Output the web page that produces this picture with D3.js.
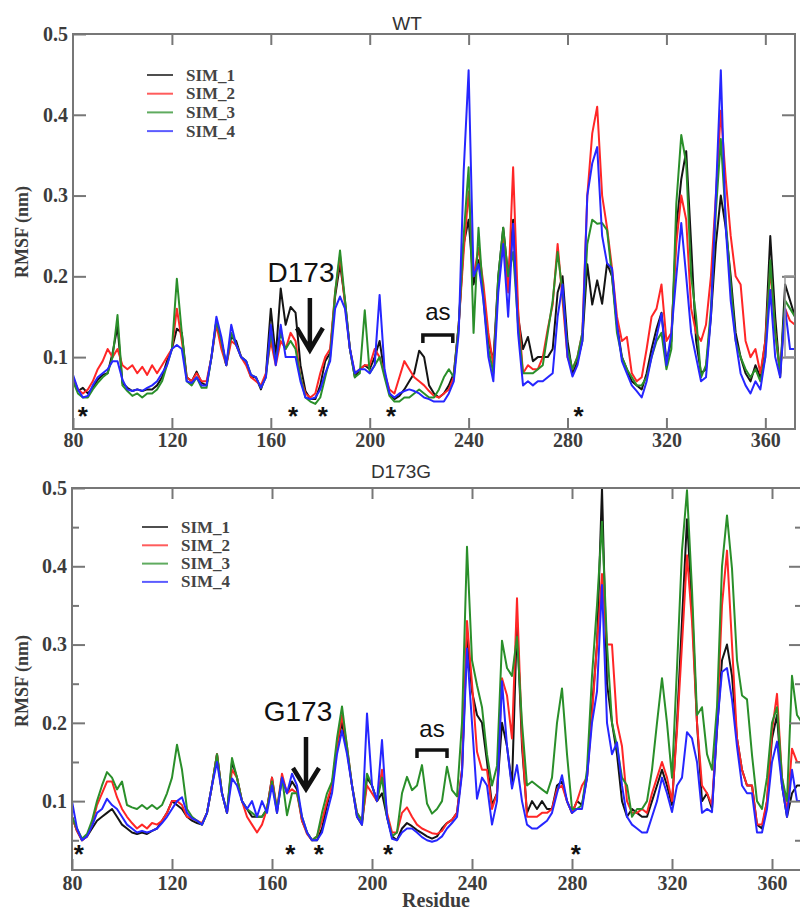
<!DOCTYPE html>
<html>
<head>
<meta charset="utf-8">
<script src="https://cdn.jsdelivr.net/npm/d3@7"></script>
<style>
body { margin: 0; background: #fff; }
svg { display: block; }
</style>
</head>
<body>
<script>
// residue numbers (every second residue) and series names
var residues = d3.range(80, 373, 2);
var simNames = ["SIM_1", "SIM_2", "SIM_3", "SIM_4"];
var simColors = ["#141414", "#ff2626", "#2a8f2a", "#2626ff"];
var yTicks = [0.1, 0.2, 0.3, 0.4, 0.5];
var yMinor = [0.05, 0.15, 0.25, 0.35, 0.45];
var xTicks = [80, 120, 160, 200, 240, 280, 320, 360];

// WT RMSF (nm)
var wtSim1 = [
  0.075,0.058,0.062,0.055,0.062,0.072,0.078,0.080,0.105,0.138,
  0.068,0.062,0.058,0.060,0.058,0.060,0.060,0.065,0.075,0.095,
  0.110,0.135,0.130,0.075,0.070,0.082,0.068,0.065,0.100,0.145,
  0.120,0.090,0.125,0.120,0.100,0.095,0.075,0.075,0.060,0.078,
  0.160,0.100,0.185,0.140,0.162,0.155,0.090,0.058,0.048,0.048,
  0.065,0.095,0.105,0.175,0.215,0.170,0.110,0.075,0.085,0.090,
  0.085,0.100,0.120,0.080,0.055,0.048,0.052,0.060,0.070,0.080,
  0.108,0.100,0.065,0.055,0.050,0.055,0.065,0.080,0.140,0.240,
  0.270,0.190,0.220,0.180,0.120,0.095,0.200,0.260,0.200,0.270,
  0.150,0.110,0.125,0.095,0.100,0.100,0.100,0.110,0.180,0.200,
  0.120,0.080,0.095,0.120,0.215,0.165,0.195,0.166,0.216,0.200,
  0.140,0.100,0.085,0.070,0.065,0.060,0.080,0.110,0.135,0.155,
  0.095,0.120,0.260,0.320,0.355,0.240,0.120,0.080,0.085,0.150,
  0.240,0.300,0.260,0.200,0.130,0.100,0.080,0.070,0.090,0.075,
  0.120,0.250,0.150,0.075,0.190,0.170,0.150];
var wtSim2 = [
  0.075,0.060,0.055,0.060,0.070,0.085,0.095,0.110,0.100,0.110,
  0.090,0.085,0.090,0.080,0.088,0.078,0.090,0.080,0.090,0.100,
  0.110,0.160,0.120,0.075,0.070,0.080,0.070,0.070,0.100,0.140,
  0.110,0.090,0.120,0.115,0.100,0.090,0.075,0.070,0.065,0.080,
  0.120,0.090,0.120,0.110,0.130,0.120,0.075,0.055,0.050,0.055,
  0.080,0.100,0.110,0.180,0.225,0.165,0.110,0.080,0.085,0.090,
  0.090,0.110,0.100,0.080,0.060,0.055,0.075,0.095,0.085,0.075,
  0.070,0.065,0.058,0.052,0.050,0.055,0.060,0.075,0.140,0.230,
  0.305,0.200,0.235,0.190,0.130,0.090,0.190,0.250,0.180,0.335,
  0.160,0.080,0.090,0.085,0.085,0.100,0.135,0.165,0.240,0.170,
  0.100,0.085,0.100,0.130,0.300,0.377,0.410,0.300,0.260,0.210,
  0.150,0.120,0.125,0.080,0.070,0.075,0.110,0.150,0.160,0.190,
  0.120,0.130,0.240,0.300,0.270,0.160,0.130,0.120,0.140,0.200,
  0.300,0.405,0.320,0.250,0.200,0.190,0.120,0.100,0.110,0.080,
  0.120,0.210,0.130,0.080,0.160,0.145,0.140];
var wtSim3 = [
  0.070,0.055,0.050,0.050,0.060,0.068,0.075,0.080,0.100,0.152,
  0.065,0.058,0.052,0.055,0.050,0.055,0.055,0.060,0.070,0.090,
  0.110,0.197,0.130,0.070,0.065,0.075,0.062,0.062,0.100,0.145,
  0.120,0.090,0.130,0.115,0.100,0.095,0.078,0.075,0.062,0.075,
  0.130,0.095,0.130,0.110,0.120,0.110,0.075,0.050,0.045,0.042,
  0.050,0.075,0.100,0.180,0.232,0.170,0.110,0.075,0.080,0.158,
  0.080,0.090,0.100,0.075,0.052,0.045,0.045,0.050,0.050,0.055,
  0.060,0.055,0.050,0.050,0.060,0.075,0.085,0.075,0.140,0.250,
  0.335,0.130,0.260,0.170,0.110,0.080,0.200,0.260,0.200,0.230,
  0.140,0.080,0.080,0.080,0.085,0.090,0.130,0.170,0.230,0.180,
  0.110,0.085,0.100,0.130,0.240,0.270,0.265,0.266,0.257,0.200,
  0.130,0.100,0.085,0.075,0.065,0.065,0.075,0.100,0.120,0.130,
  0.085,0.110,0.290,0.375,0.340,0.200,0.150,0.075,0.090,0.160,
  0.280,0.370,0.270,0.190,0.120,0.100,0.085,0.075,0.085,0.070,
  0.100,0.220,0.130,0.080,0.170,0.160,0.150];
var wtSim4 = [
  0.078,0.060,0.050,0.052,0.065,0.075,0.080,0.085,0.095,0.095,
  0.072,0.060,0.058,0.060,0.058,0.062,0.065,0.070,0.080,0.090,
  0.110,0.115,0.110,0.070,0.068,0.075,0.065,0.065,0.100,0.150,
  0.125,0.090,0.140,0.115,0.100,0.095,0.078,0.075,0.062,0.075,
  0.140,0.090,0.140,0.100,0.100,0.100,0.070,0.050,0.048,0.050,
  0.060,0.080,0.095,0.160,0.175,0.160,0.110,0.080,0.085,0.085,
  0.080,0.090,0.177,0.085,0.055,0.050,0.055,0.058,0.060,0.058,
  0.055,0.050,0.048,0.045,0.045,0.045,0.055,0.070,0.130,0.330,
  0.455,0.200,0.215,0.170,0.100,0.070,0.180,0.240,0.150,0.265,
  0.130,0.065,0.070,0.065,0.070,0.070,0.075,0.080,0.150,0.190,
  0.100,0.076,0.090,0.120,0.300,0.340,0.360,0.250,0.216,0.210,
  0.140,0.095,0.080,0.065,0.058,0.050,0.070,0.100,0.125,0.154,
  0.090,0.130,0.200,0.266,0.200,0.130,0.100,0.070,0.075,0.150,
  0.300,0.455,0.260,0.170,0.120,0.080,0.065,0.055,0.070,0.060,
  0.100,0.183,0.100,0.075,0.160,0.110,0.110];

// D173G RMSF (nm)
var mutSim1 = [
  0.080,0.062,0.050,0.055,0.065,0.075,0.080,0.085,0.090,0.080,
  0.070,0.065,0.060,0.058,0.060,0.058,0.062,0.065,0.075,0.085,
  0.100,0.095,0.090,0.080,0.075,0.072,0.070,0.085,0.120,0.160,
  0.110,0.085,0.150,0.130,0.100,0.090,0.080,0.080,0.080,0.090,
  0.130,0.085,0.130,0.110,0.125,0.115,0.075,0.060,0.050,0.050,
  0.065,0.095,0.120,0.170,0.200,0.165,0.120,0.080,0.070,0.130,
  0.120,0.100,0.110,0.080,0.055,0.050,0.065,0.072,0.068,0.063,
  0.059,0.055,0.052,0.055,0.065,0.072,0.076,0.085,0.140,0.310,
  0.240,0.210,0.200,0.150,0.095,0.110,0.200,0.170,0.120,0.330,
  0.170,0.085,0.100,0.090,0.100,0.090,0.090,0.120,0.125,0.100,
  0.085,0.100,0.095,0.130,0.220,0.300,0.500,0.250,0.200,0.160,
  0.100,0.080,0.090,0.085,0.080,0.080,0.100,0.120,0.140,0.120,
  0.095,0.200,0.330,0.460,0.350,0.200,0.100,0.110,0.090,0.190,
  0.280,0.300,0.260,0.180,0.140,0.120,0.120,0.070,0.065,0.100,
  0.180,0.210,0.120,0.080,0.110,0.120,0.120];
var mutSim2 = [
  0.080,0.062,0.050,0.055,0.070,0.095,0.110,0.125,0.125,0.105,
  0.090,0.080,0.072,0.065,0.070,0.065,0.072,0.070,0.075,0.085,
  0.100,0.100,0.095,0.080,0.078,0.075,0.072,0.085,0.120,0.160,
  0.110,0.085,0.140,0.130,0.100,0.080,0.070,0.060,0.070,0.090,
  0.130,0.090,0.135,0.110,0.115,0.110,0.075,0.058,0.050,0.055,
  0.075,0.100,0.120,0.170,0.210,0.170,0.120,0.085,0.075,0.120,
  0.110,0.100,0.140,0.085,0.060,0.060,0.085,0.092,0.080,0.070,
  0.065,0.062,0.059,0.058,0.062,0.072,0.076,0.085,0.140,0.330,
  0.250,0.163,0.140,0.140,0.090,0.110,0.257,0.235,0.180,0.359,
  0.180,0.080,0.080,0.080,0.085,0.085,0.090,0.115,0.120,0.100,
  0.085,0.100,0.120,0.130,0.210,0.300,0.390,0.300,0.300,0.200,
  0.170,0.100,0.085,0.085,0.090,0.085,0.110,0.130,0.150,0.130,
  0.100,0.190,0.300,0.414,0.330,0.200,0.120,0.110,0.095,0.200,
  0.350,0.420,0.300,0.180,0.140,0.120,0.120,0.070,0.070,0.100,
  0.190,0.237,0.130,0.085,0.167,0.150,0.150];
var mutSim3 = [
  0.080,0.065,0.052,0.058,0.075,0.100,0.120,0.137,0.130,0.115,
  0.125,0.095,0.092,0.090,0.095,0.090,0.095,0.090,0.095,0.110,
  0.130,0.172,0.140,0.090,0.080,0.075,0.070,0.085,0.120,0.160,
  0.110,0.085,0.155,0.130,0.100,0.090,0.085,0.080,0.080,0.090,
  0.125,0.090,0.130,0.082,0.110,0.110,0.080,0.060,0.050,0.055,
  0.085,0.110,0.125,0.180,0.221,0.170,0.120,0.085,0.075,0.135,
  0.120,0.100,0.130,0.080,0.055,0.060,0.110,0.131,0.114,0.120,
  0.146,0.097,0.084,0.090,0.100,0.144,0.114,0.106,0.200,0.425,
  0.280,0.248,0.220,0.160,0.120,0.145,0.305,0.270,0.260,0.310,
  0.200,0.120,0.125,0.120,0.115,0.110,0.130,0.200,0.244,0.160,
  0.090,0.090,0.095,0.140,0.260,0.350,0.457,0.300,0.200,0.170,
  0.130,0.120,0.080,0.090,0.090,0.100,0.140,0.200,0.257,0.200,
  0.130,0.270,0.420,0.497,0.370,0.210,0.220,0.160,0.140,0.220,
  0.400,0.465,0.397,0.280,0.235,0.230,0.159,0.100,0.090,0.130,
  0.200,0.220,0.130,0.100,0.260,0.210,0.200];
var mutSim4 = [
  0.100,0.065,0.050,0.055,0.068,0.085,0.090,0.103,0.095,0.090,
  0.080,0.070,0.065,0.060,0.062,0.060,0.062,0.065,0.072,0.080,
  0.090,0.100,0.105,0.085,0.078,0.075,0.070,0.085,0.120,0.150,
  0.110,0.085,0.129,0.120,0.100,0.090,0.100,0.080,0.100,0.085,
  0.120,0.085,0.130,0.110,0.135,0.120,0.080,0.060,0.050,0.050,
  0.060,0.085,0.110,0.160,0.190,0.160,0.120,0.080,0.070,0.212,
  0.120,0.100,0.178,0.080,0.052,0.050,0.060,0.065,0.065,0.060,
  0.054,0.050,0.048,0.050,0.055,0.065,0.072,0.080,0.135,0.295,
  0.200,0.103,0.130,0.120,0.070,0.100,0.253,0.170,0.116,0.146,
  0.100,0.070,0.065,0.065,0.070,0.075,0.085,0.110,0.133,0.100,
  0.085,0.090,0.090,0.130,0.200,0.240,0.376,0.200,0.160,0.175,
  0.120,0.080,0.070,0.065,0.060,0.060,0.080,0.100,0.130,0.110,
  0.086,0.120,0.130,0.188,0.180,0.150,0.085,0.090,0.086,0.195,
  0.265,0.270,0.230,0.170,0.120,0.110,0.110,0.060,0.060,0.090,
  0.150,0.176,0.120,0.080,0.140,0.100,0.100];

// residues marked with an asterisk
var wtStars = [84, 169, 181, 208.6, 284.5];
var mutStars = [82.7, 167.3, 178.7, 206.4, 281.5];

var width = 800, height = 913;

var svg = d3.select("body")
   .append("svg")
   .attr("width", width)
   .attr("height", height);

var panels = [
  {id: "wt", title: "WT", titleX: 407, titleY: 30,
   series: [wtSim1, wtSim2, wtSim3, wtSim4],
   left: 73, right: 795, top: 34, bottom: 429, ymin: 0.011, minor: false,
   labelPad: 4, ylabelY: 232,
   mark: "D173", markX: 301, markY: 282, arrowRes: 175.8, arrowTop: 298, arrowArm: 328, arrowTip: 350,
   asFrom: 221.5, asTo: 233.6, asY: 335, asText: 320,
   stars: wtStars, starY: 410,
   legX: 147, legY: 75, legDy: 18.7},
  {id: "mut", title: "D173G", titleX: 401, titleY: 478,
   series: [mutSim1, mutSim2, mutSim3, mutSim4],
   left: 72, right: 802, top: 488, bottom: 870, ymin: 0.012, minor: true,
   labelPad: 6, ylabelY: 681,
   mark: "G173", markX: 298, markY: 721, arrowRes: 173.6, arrowTop: 737, arrowArm: 768, arrowTip: 789,
   asFrom: 218, asTo: 230, asY: 750, asText: 737,
   stars: mutStars, starY: 848,
   legX: 142, legY: 527, legDy: 18.3}
];

panels.forEach(function(p) {
  var x = d3.scaleLinear().domain([80, 372]).range([p.left, p.right]);
  var y = d3.scaleLinear().domain([p.ymin, 0.5]).range([p.bottom, p.top]);
  var g = svg.append("g");

  g.append("clipPath").attr("id", "clip-" + p.id)
    .append("rect")
      .attr("x", p.left).attr("y", p.top)
      .attr("width", p.right - p.left).attr("height", p.bottom - p.top);

  // lines
  var line = d3.line()
      .x(function(d, i) { return x(residues[i]); })
      .y(function(d) { return y(d); });

  g.append("g")
      .attr("clip-path", "url(#clip-" + p.id + ")")
    .selectAll("path")
    .data(p.series)
    .enter().append("path")
      .attr("fill", "none")
      .attr("stroke", function(d, i) { return simColors[i]; })
      .attr("stroke-width", 2)
      .attr("stroke-linejoin", "round")
      .attr("d", line);

  // frame
  g.append("rect")
      .attr("x", p.left).attr("y", p.top)
      .attr("width", p.right - p.left).attr("height", p.bottom - p.top)
      .attr("fill", "none")
      .attr("stroke", "#777")
      .attr("stroke-width", 2);

  // axes, ticks pointing inwards
  var ax = [
    {a: d3.axisBottom(x).tickValues(xTicks).tickSizeInner(-11).tickPadding(p.labelPad), t: "translate(0," + p.bottom + ")"},
    {a: d3.axisTop(x).tickValues(xTicks.slice(1)).tickSizeInner(-11).tickFormat(""), t: "translate(0," + p.top + ")"},
    {a: d3.axisLeft(y).tickValues(yTicks).tickSizeInner(-13).tickPadding(5).tickFormat(d3.format(".1f")), t: "translate(" + p.left + ",0)"},
    {a: d3.axisRight(y).tickValues(yTicks.slice(0, 4)).tickSizeInner(-13).tickFormat(""), t: "translate(" + p.right + ",0)"}
  ];
  if (p.minor) {
    ax.push({a: d3.axisLeft(y).tickValues(yMinor).tickSizeInner(-7).tickFormat(""), t: "translate(" + p.left + ",0)"});
    ax.push({a: d3.axisRight(y).tickValues(yMinor).tickSizeInner(-7).tickFormat(""), t: "translate(" + p.right + ",0)"});
  }
  ax.forEach(function(o) {
    var ag = g.append("g")
        .attr("transform", o.t)
        .call(o.a.tickSizeOuter(0));
    ag.select(".domain").remove();
    ag.selectAll(".tick line").attr("stroke", "#777").attr("stroke-width", 2);
    ag.selectAll(".tick text")
        .attr("fill", "#3c3c3c")
        .style("font-family", "'Liberation Serif', 'Times New Roman', serif")
        .style("font-weight", "bold")
        .style("font-size", "20px");
  });

  // titles
  g.append("text")
      .attr("x", p.titleX).attr("y", p.titleY)
      .attr("text-anchor", "middle")
      .style("font-family", "'Liberation Sans', Arial, sans-serif")
      .style("font-size", "19px")
      .attr("fill", "#333")
      .text(p.title);

  g.append("text")
      .attr("transform", "translate(28," + p.ylabelY + ") rotate(-90)")
      .attr("text-anchor", "middle")
      .style("font-family", "'Liberation Serif', 'Times New Roman', serif")
      .style("font-weight", "bold")
      .style("font-size", "18px")
      .attr("fill", "#3c3c3c")
      .text("RMSF (nm)");

  // legend
  var leg = g.append("g");
  simNames.forEach(function(n, i) {
    var ly = p.legY + i * p.legDy;
    leg.append("line")
        .attr("x1", p.legX).attr("x2", p.legX + 26)
        .attr("y1", ly).attr("y2", ly)
        .attr("stroke", simColors[i])
        .attr("stroke-opacity", 0.75)
        .attr("stroke-width", 2);
    leg.append("text")
        .attr("x", p.legX + 39).attr("y", ly + 5.5)
        .style("font-family", "'Liberation Serif', 'Times New Roman', serif")
        .style("font-weight", "bold")
        .style("font-size", "17px")
        .attr("fill", "#444")
        .text(n);
  });

  // residue label + arrow
  g.append("text")
      .attr("x", p.markX).attr("y", p.markY)
      .attr("text-anchor", "middle")
      .style("font-family", "'Liberation Sans', Arial, sans-serif")
      .style("font-size", "28px")
      .attr("fill", "#111")
      .text(p.mark);

  var axX = x(p.arrowRes);
  g.append("path")
      .attr("d", "M" + axX + "," + p.arrowTop + "V" + (p.arrowTip - 3) +
                 "M" + (axX - 13) + "," + p.arrowArm + "L" + axX + "," + p.arrowTip + "L" + (axX + 13) + "," + p.arrowArm)
      .attr("fill", "none")
      .attr("stroke", "#111")
      .attr("stroke-width", 4.5);

  // active site bracket
  var b0 = x(p.asFrom), b1 = x(p.asTo);
  g.append("path")
      .attr("d", "M" + b0 + "," + (p.asY + 8) + "V" + p.asY + "H" + b1 + "V" + (p.asY + 8))
      .attr("fill", "none")
      .attr("stroke", "#111")
      .attr("stroke-width", 3.5);
  g.append("text")
      .attr("x", (b0 + b1) / 2).attr("y", p.asText)
      .attr("text-anchor", "middle")
      .style("font-family", "'Liberation Sans', Arial, sans-serif")
      .style("font-size", "24px")
      .attr("fill", "#111")
      .text("as");

  // asterisks
  g.selectAll(".star")
    .data(p.stars)
    .enter().append("text")
      .attr("class", "star")
      .attr("x", function(d) { return x(d); })
      .attr("y", p.starY + 15)
      .attr("text-anchor", "middle")
      .style("font-family", "'Liberation Sans', Arial, sans-serif")
      .style("font-weight", "bold")
      .style("font-size", "26px")
      .attr("fill", "#111")
      .text("*");
});

// small box remnant at the right edge of the WT panel
svg.append("path")
    .attr("d", "M795,276H785V357H795")
    .attr("fill", "none")
    .attr("stroke", "#999")
    .attr("stroke-width", 1.5);

svg.append("text")
    .attr("x", 436).attr("y", 907)
    .attr("text-anchor", "middle")
    .style("font-family", "'Liberation Serif', 'Times New Roman', serif")
    .style("font-weight", "bold")
    .style("font-size", "20px")
    .attr("fill", "#3c3c3c")
    .text("Residue");
</script>
</body>
</html>
